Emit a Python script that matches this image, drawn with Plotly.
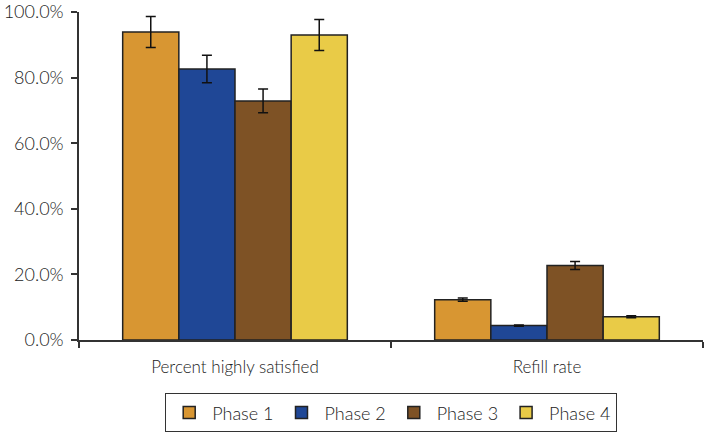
import plotly.graph_objects as go

CATEGORIES = ["Percent highly satisfied", "Refill rate"]
PHASES = ["Phase 1", "Phase 2", "Phase 3", "Phase 4"]
VALUES = {
    "Phase 1": [93.9, 12.3],
    "Phase 2": [82.6, 4.4],
    "Phase 3": [72.9, 22.7],
    "Phase 4": [93.0, 7.1],
}
ERRORS = {
    "Phase 1": [4.7, 0.5],
    "Phase 2": [4.2, 0.2],
    "Phase 3": [3.6, 1.2],
    "Phase 4": [4.7, 0.3],
}
COLORS = ["#D89632", "#1F4796", "#7E5225", "#E9CB47"]

TEXT = "#222222"
FONT = "Lato, 'Open Sans', sans-serif"

fig = go.Figure()
for phase, color in zip(PHASES, COLORS):
    fig.add_trace(go.Bar(
        x=CATEGORIES, y=VALUES[phase], name=phase,
        marker=dict(color=color, line=dict(color="#222222", width=1.5)),
        error_y=dict(type="data", array=ERRORS[phase], color="#111111",
                     thickness=1.5, width=5),
    ))

fig.update_layout(
    width=704, height=435,
    margin=dict(l=79, r=1, t=12, b=95, autoexpand=False),
    barmode="group", bargap=0.28, bargroupgap=0,
    plot_bgcolor="white", paper_bgcolor="white",
    font=dict(family=FONT, size=18, color=TEXT, weight=300),
    showlegend=True,
    legend=dict(orientation="h", x=0.5, xanchor="center", y=-0.162, yanchor="top",
                bordercolor="#333333", borderwidth=1.2, font=dict(size=18),
                itemwidth=36, traceorder="normal"),
)
fig.update_xaxes(showline=True, linecolor="#333333", linewidth=1.5,
                 ticks="outside", tickson="boundaries", ticklen=6,
                 tickcolor="#333333", tickwidth=1.5, showgrid=False,
                 tickfont=dict(size=17), ticklabelstandoff=11)
fig.update_yaxes(range=[0, 100], dtick=20, tickformat=".1f", ticksuffix="%",
                 showline=True, linecolor="#333333", linewidth=1.5,
                 ticks="outside", ticklen=6, tickcolor="#333333", tickwidth=1.5,
                 showgrid=False, zeroline=False, tickfont=dict(size=18),
                 ticklabelstandoff=4, ticklabeloverflow="allow")

# drop the browser's default 8px body margin so the figure fills the window
fig.write_html("out.html", config={"displayModeBar": False},
               post_script="document.body.style.margin = '0';")
